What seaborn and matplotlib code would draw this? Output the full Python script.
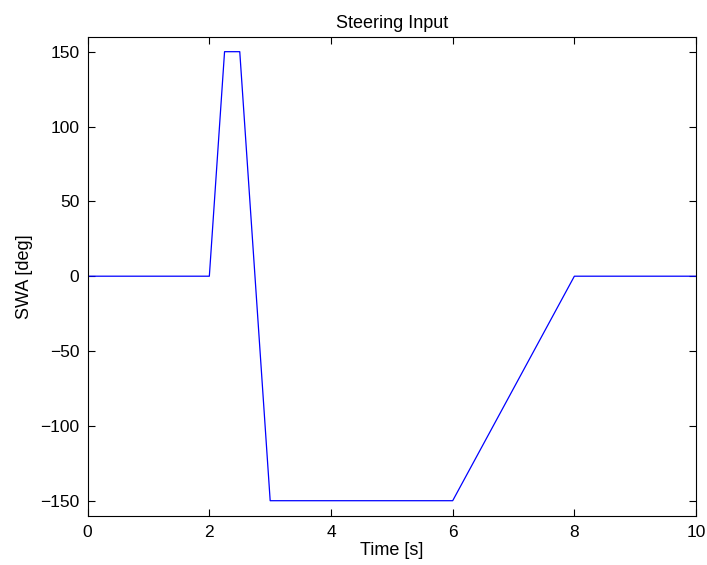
import matplotlib
matplotlib.use("Agg")
import matplotlib.pyplot as plt
import seaborn as sns
import pandas as pd

# Steering wheel angle profile (breakpoints of the manoeuvre)
time_s = [0, 2, 2.25, 2.5, 3, 6, 8, 10]
swa_deg = [0, 0, 150, 150, -150, -150, 0, 0]
x_ticks = [0, 2, 4, 6, 8, 10]
y_ticks = [-150, -100, -50, 0, 50, 100, 150]

sns.set_theme(style="white")
plt.rcParams["font.family"] = ["Liberation Sans", "DejaVu Sans"]
plt.rcParams["text.color"] = "black"
plt.rcParams["axes.labelcolor"] = "black"

df = pd.DataFrame({"Time [s]": time_s, "SWA [deg]": swa_deg})

fig = plt.figure(figsize=(7.07, 5.65), dpi=100)
ax = fig.add_axes([0.124, 0.0873, 0.8605, 0.8477])
sns.lineplot(data=df, x="Time [s]", y="SWA [deg]", ax=ax, color="#0000ff",
             linewidth=0.9, sort=False, estimator=None)

ax.set_xlim(0, 10)
ax.set_ylim(-160, 160)
ax.set_xticks(x_ticks)
ax.set_yticks(y_ticks)
ax.set_yticklabels([str(v).replace("-", "\u2212") for v in y_ticks])
ax.set_title("Steering Input", fontsize=13, pad=6, color="black")
ax.set_xlabel("Time [s]", fontsize=13, labelpad=1)
ax.set_ylabel("SWA [deg]", fontsize=13, labelpad=5)

for s in ax.spines.values():
    s.set_visible(True)
    s.set_color("black")
    s.set_linewidth(0.8)
ax.tick_params(direction="in", length=5, width=0.8, colors="black",
               labelcolor="black", labelsize=12.5, top=True, right=True,
               left=True, bottom=True, pad=6)
ax.tick_params(axis="x", pad=7)

fig.savefig("out.png", dpi=100, facecolor="white")
